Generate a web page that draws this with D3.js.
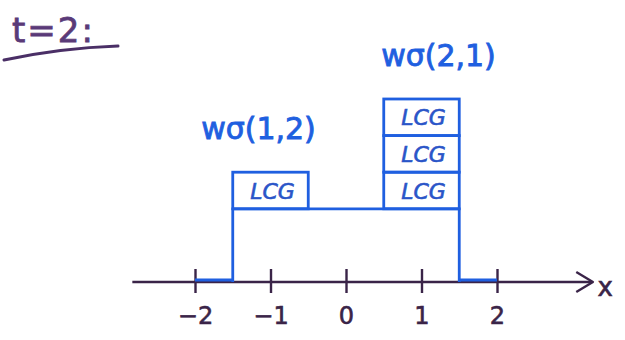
<!DOCTYPE html>
<html>
<head>
<meta charset="utf-8">
<script src="https://cdn.jsdelivr.net/npm/d3@7"></script>
<style>
  html, body { margin: 0; padding: 0; background: #fff; }
  svg { display: block; }
</style>
</head>
<body>
<svg id="chart" width="625" height="340"></svg>
<script>
// Axis ticks along x
const tickValues = [-2, -1, 0, 1, 2];
// Support of the base block and its height
const baseSpan = [-1.5, 1.5];
const baseHeight = 2;
// Stacked unit cells: centre position, number of cells, label above
const stackCenters = [-1, 1];
const stackCounts = [1, 3];
const stackLabels = ["wσ(1,2)", "wσ(2,1)"];
const cellText = "LCG";
// Zero-level stretches drawn on the axis
const zeroSpans = [[-2, -1.5], [1.5, 2]];
const title = "t=2:";

const svg = d3.select("#chart");
const blue = "#1f5fe0";
const ink = "#3a2448";

const x = d3.scaleLinear().domain([-2, 2]).range([195, 497]);
const y = d3.scaleLinear().domain([0, 5]).range([282, 99]);

// title and underline
svg.append("text").attr("x", 12).attr("y", 42)
  .attr("font-family", "DejaVu Sans").attr("font-size", 34)
  .attr("fill", "#5a3a78").attr("stroke", "#5a3a78").attr("stroke-width", 0.8)
  .attr("letter-spacing", 2).text(title);
svg.append("path")
  .attr("d", "M4,60 Q60,48 118,46")
  .attr("fill", "none").attr("stroke", "#4a2f66")
  .attr("stroke-width", 3).attr("stroke-linecap", "round");

// x axis line with arrowhead
const axisG = svg.append("g");
axisG.append("line")
  .attr("x1", x(-2.83)).attr("x2", x(3.25))
  .attr("y1", y(0)).attr("y2", y(0))
  .attr("stroke", ink).attr("stroke-width", 2.4);
axisG.append("path")
  .attr("d", `M${x(3.05)},${y(0) - 10} L${x(3.27)},${y(0)} L${x(3.05)},${y(0) + 10}`)
  .attr("fill", "none").attr("stroke", ink).attr("stroke-width", 2.4)
  .attr("stroke-linejoin", "round");
axisG.append("text")
  .attr("x", x(3.33)).attr("y", y(0) + 14)
  .attr("font-family", "DejaVu Sans").attr("font-size", 26)
  .attr("fill", ink).attr("stroke", ink).attr("stroke-width", 0.6).text("x");

// ticks and labels via d3 axis
const axis = d3.axisBottom(x).tickValues(tickValues)
  .tickSize(0).tickPadding(0).tickFormat(d => d < 0 ? "\u2212" + Math.abs(d) : String(d));
const ag = svg.append("g").attr("transform", `translate(0,${y(0)})`).call(axis);
ag.select(".domain").remove();
ag.selectAll(".tick line").remove();
ag.selectAll(".tick").append("line")
  .attr("y1", -13).attr("y2", 11)
  .attr("stroke", ink).attr("stroke-width", 2.4);
ag.selectAll(".tick text")
  .attr("y", 42).attr("dy", 0)
  .attr("font-family", "DejaVu Sans").attr("font-size", 24)
  .attr("fill", ink).attr("stroke", ink).attr("stroke-width", 0.6);

// zero-level segments on the axis
svg.selectAll(".zero").data(zeroSpans).enter().append("line")
  .attr("x1", d => x(d[0])).attr("x2", d => x(d[1]))
  .attr("y1", y(0) - 2).attr("y2", y(0) - 2)
  .attr("stroke", blue).attr("stroke-width", 3);

// base block outline
const baseG = svg.append("g").attr("fill", "none").attr("stroke", blue).attr("stroke-width", 2.8);
baseG.append("path")
  .attr("d", `M${x(baseSpan[0])},${y(0)} V${y(baseHeight)} H${x(baseSpan[1])} V${y(0)}`);

// stacked cells
stackCenters.forEach((c, i) => {
  const n = stackCounts[i];
  const cells = d3.range(n);
  const g = svg.append("g");
  g.selectAll("rect").data(cells).enter().append("rect")
    .attr("x", x(c - 0.5)).attr("width", x(c + 0.5) - x(c - 0.5))
    .attr("y", k => y(baseHeight + k + 1))
    .attr("height", y(0) - y(1))
    .attr("fill", "none").attr("stroke", blue).attr("stroke-width", 2.8);
  g.selectAll("text").data(cells).enter().append("text")
    .attr("x", x(c) + 2).attr("y", k => y(baseHeight + k + 0.5) + 8)
    .attr("text-anchor", "middle")
    .attr("font-family", "DejaVu Sans").attr("font-style", "italic")
    .attr("font-size", 22).attr("fill", "#2a55c8")
    .attr("stroke", "#2a55c8").attr("stroke-width", 0.6)
    .text(cellText);
  svg.append("text")
    .attr("x", x(c) + (i === 0 ? -12 : 17))
    .attr("y", y(baseHeight + n) - 33)
    .attr("text-anchor", "middle")
    .attr("font-family", "DejaVu Sans").attr("font-size", 30)
    .attr("fill", blue).attr("stroke", blue).attr("stroke-width", 0.9)
    .text(stackLabels[i]);
});
</script>
</body>
</html>
